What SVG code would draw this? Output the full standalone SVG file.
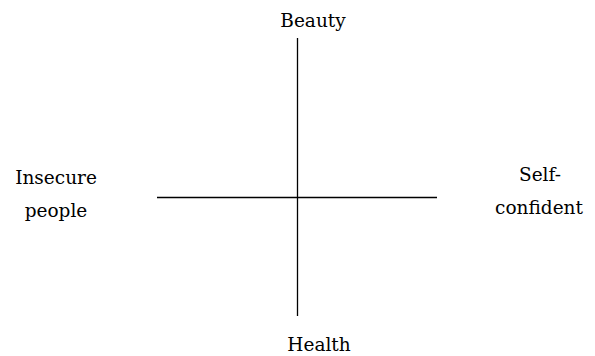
<svg xmlns="http://www.w3.org/2000/svg" width="595" height="356" viewBox="0 0 595 356">
<style>
.ax{stroke:#000;stroke-width:1.3;fill:none}
.t{font-family:"DejaVu Serif","Liberation Serif",serif;font-size:18.5px;text-anchor:middle;fill:#000}
</style>
<rect width="595" height="356" fill="#fff"/>
<g id="connectors">
<line class="ax" x1="297.5" y1="38" x2="297.5" y2="316"/>
<line class="ax" x1="157" y1="197.5" x2="437" y2="197.5"/>
</g>
<g id="beauty"><text class="t" x="313" y="27">Beauty</text></g>
<g id="insecure"><text class="t" x="56" y="184">Insecure</text><text class="t" x="56" y="217">people</text></g>
<g id="selfconfident"><text class="t" x="540" y="181">Self-</text><text class="t" x="539" y="214">confident</text></g>
<g id="health"><text class="t" x="319" y="351">Health</text></g>
</svg>
